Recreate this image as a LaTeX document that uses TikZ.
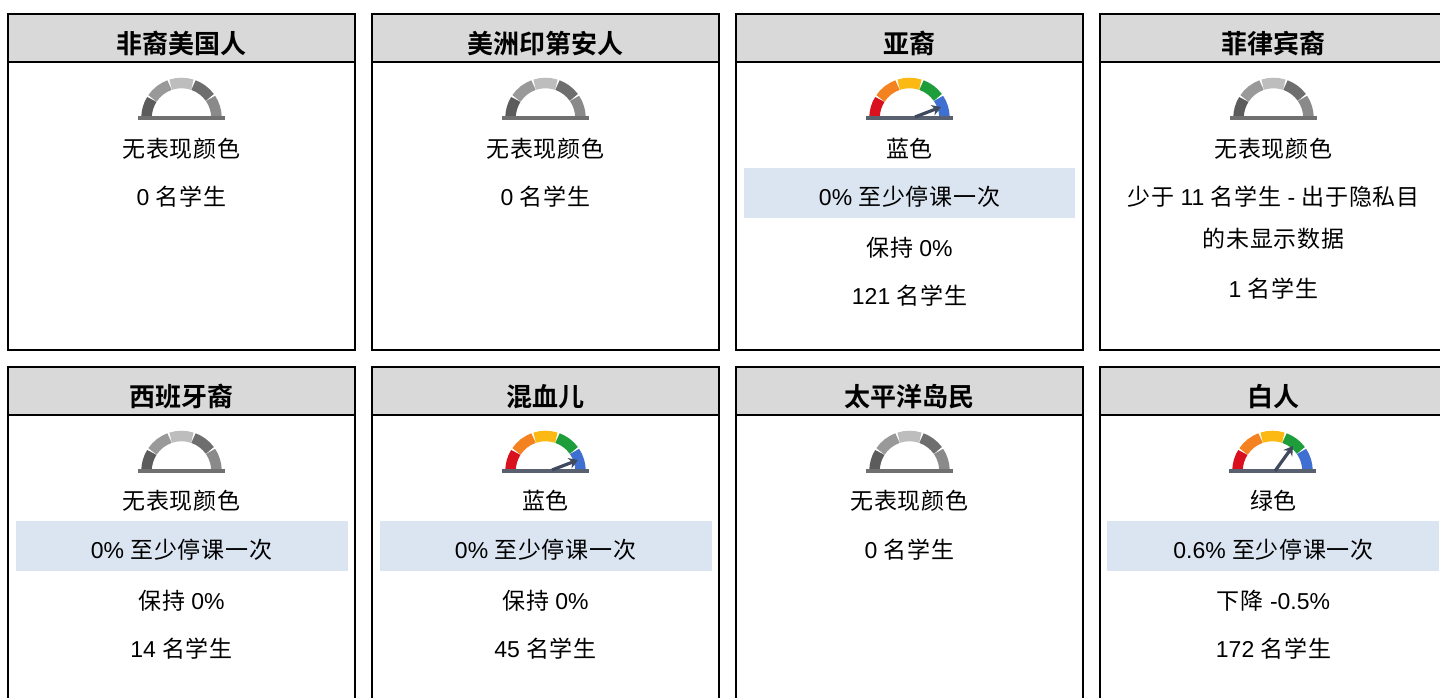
\documentclass[tikz,border=0pt]{standalone}
\usepackage{fontspec}
\usetikzlibrary{arrows.meta}
\setmainfont{Liberation Sans}
\newfontfamily\cjkreg[LetterSpace=3]{Noto Sans CJK SC}
\newfontfamily\cjkhead{Noto Sans CJK SC Bold}
\newcommand{\zh}[1]{{\cjkreg #1}}
\definecolor{hdr}{HTML}{D9D9D9}
\definecolor{band}{HTML}{DBE5F1}
\definecolor{gr}{HTML}{D9111F}
\definecolor{go}{HTML}{F58220}
\definecolor{gy}{HTML}{FDB913}
\definecolor{gg}{HTML}{1E9E3A}
\definecolor{gb}{HTML}{3F6FD0}
\definecolor{gbase}{HTML}{596070}
\definecolor{gneedle}{HTML}{3F4A5F}
\definecolor{ga}{HTML}{5C5C5C}
\definecolor{gc}{HTML}{999999}
\definecolor{gd}{HTML}{BDBDBD}
\definecolor{ge}{HTML}{6E6E6E}
\definecolor{gf}{HTML}{8A8A8A}
\definecolor{gh}{HTML}{707070}
\tikzset{
  cardbox/.style={draw=black,line width=2pt,fill=white},
  headbox/.style={draw=black,line width=2pt,fill=hdr},
  bandbox/.style={fill=band,draw=none},
  txt/.style={anchor=base,inner sep=0pt,yshift=-1.5pt,font=\fontsize{23}{24}\selectfont,text=black},
  headtxt/.style={anchor=base,inner sep=0pt,font=\fontsize{26}{28}\cjkhead,text=black},
  seg/.style={line width=10.5pt,line cap=butt},
  needle/.style={line width=3.2pt,draw=gneedle,-{Stealth[length=9pt,width=11pt]}}
}
% #1 left x, #2 top y, #3 title, #4 name
\newcommand{\card}[4]{%
  \draw[cardbox] (#1,#2) rectangle (#1+347,#2-336);
  \draw[headbox] (#1,#2) rectangle (#1+347,#2-48);
  \node[headtxt] (#4) at (#1+173.5,#2-39.5) {#3};
}
% #1 cx, #2 base y, #3-#8 colours
\newcommand{\gauge}[8]{%
  \begin{scope}[shift={(#1,#2)}]
    \draw[seg,#3] (180:35pt) arc (180:148:35pt);
    \draw[seg,#4] (146:35pt) arc (146:110:35pt);
    \draw[seg,#5] (108:35pt) arc (108:72:35pt);
    \draw[seg,#6] (70:35pt) arc (70:36:35pt);
    \draw[seg,#7] (34:35pt) arc (34:0:35pt);
    \draw[#8,line width=4pt] (-43.5pt,0) -- (43.5pt,0);
  \end{scope}
}
\begin{document}
\begin{tikzpicture}[x=1pt,y=1pt]
\useasboundingbox (0,0) rectangle (1440,698);
\clip (0,0) rectangle (1440,698);
\fill[white] (0,0) rectangle (1440,698);
% row 1
\card{8}{684}{非裔美国人}{t1}
\card{372}{684}{美洲印第安人}{t2}
\card{736}{684}{亚裔}{t3}
\card{1100}{684}{菲律宾裔}{t4}
% row 2
\card{8}{331}{西班牙裔}{t5}
\card{372}{331}{混血儿}{t6}
\card{736}{331}{太平洋岛民}{t7}
\card{1100}{331}{白人}{t8}
% bands
\fill[bandbox] (744,480) rectangle (1075,530);
\fill[bandbox] (16,127) rectangle (348,177);
\fill[bandbox] (380,127) rectangle (712,177);
\fill[bandbox] (1107,127) rectangle (1439,177);
% gauges
\gauge{181.5}{580}{ga}{gc}{gd}{ge}{gf}{gh}
\gauge{545.5}{580}{ga}{gc}{gd}{ge}{gf}{gh}
\gauge{909.5}{580}{gr}{go}{gy}{gg}{gb}{gbase}
\draw[needle] (915,581) -- (941,591);
\gauge{1273.5}{580}{ga}{gc}{gd}{ge}{gf}{gh}
\gauge{181.5}{227}{ga}{gc}{gd}{ge}{gf}{gh}
\gauge{545.5}{227}{gr}{go}{gy}{gg}{gb}{gbase}
\draw[needle] (552,228) -- (578,238);
\gauge{909.5}{227}{ga}{gc}{gd}{ge}{gf}{gh}
\gauge{1272.5}{227}{gr}{go}{gy}{gg}{gb}{gbase}
\draw[needle] (1275,227) -- (1293,252);
% row 1 texts
\node[txt] (a1) at (181.5,542) {\zh{无表现颜色}};
\node[txt] (a2) at (181.5,494) {0 \zh{名学生}};
\node[txt] (b1) at (545.5,542) {\zh{无表现颜色}};
\node[txt] (b2) at (545.5,494) {0 \zh{名学生}};
\node[txt] (c1) at (909.5,542) {\zh{蓝色}};
\node[txt] (c2) at (909.5,494) {0\% \zh{至少停课一次}};
\node[txt] (c3) at (909.5,443) {\zh{保持} 0\%};
\node[txt] (c4) at (909.5,395) {121 \zh{名学生}};
\node[txt] (d1) at (1273.5,542) {\zh{无表现颜色}};
\node[txt] (d2) at (1273.5,494) {\zh{少于} 11 \zh{名学生} - \zh{出于隐私目}};
\node[txt] (d3) at (1273.5,452) {\zh{的未显示数据}};
\node[txt] (d4) at (1273.5,402) {1 \zh{名学生}};
% row 2 texts
\node[txt] (e1) at (181.5,190) {\zh{无表现颜色}};
\node[txt] (e2) at (181.5,141) {0\% \zh{至少停课一次}};
\node[txt] (e3) at (181.5,90) {\zh{保持} 0\%};
\node[txt] (e4) at (181.5,42) {14 \zh{名学生}};
\node[txt] (f1) at (545.5,190) {\zh{蓝色}};
\node[txt] (f2) at (545.5,141) {0\% \zh{至少停课一次}};
\node[txt] (f3) at (545.5,90) {\zh{保持} 0\%};
\node[txt] (f4) at (545.5,42) {45 \zh{名学生}};
\node[txt] (g1) at (909.5,190) {\zh{无表现颜色}};
\node[txt] (g2) at (909.5,141) {0 \zh{名学生}};
\node[txt] (h1) at (1273.5,190) {\zh{绿色}};
\node[txt] (h2) at (1273.5,141) {0.6\% \zh{至少停课一次}};
\node[txt] (h3) at (1273.5,90) {\zh{下降} -0.5\%};
\node[txt] (h4) at (1273.5,42) {172 \zh{名学生}};
\end{tikzpicture}
\end{document}
